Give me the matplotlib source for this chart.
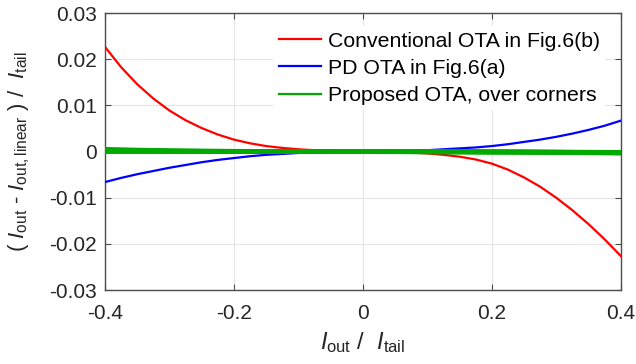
import numpy as np
import matplotlib
matplotlib.use("Agg")
import matplotlib.pyplot as plt

plt.rcParams["font.family"] = ["Liberation Sans", "DejaVu Sans"]
plt.rcParams["mathtext.fontset"] = "custom"
plt.rcParams["mathtext.rm"] = "Liberation Sans"
plt.rcParams["mathtext.it"] = "Liberation Sans:italic"

# normalised output current
x = [-0.4, -0.375, -0.35, -0.325, -0.3, -0.275, -0.25, -0.225, -0.2, -0.175, -0.15,
     -0.125, -0.1, -0.075, -0.05, -0.025, 0.0, 0.025, 0.05, 0.075, 0.1, 0.125,
     0.15, 0.175, 0.2, 0.225, 0.25, 0.275, 0.3, 0.325, 0.35, 0.375, 0.4]

# conventional OTA (Fig.6(b))
conv = [0.0227, 0.0183, 0.0146, 0.0115, 0.0089, 0.0068, 0.0051, 0.0037, 0.0026, 0.0018, 0.0012,
        0.0008, 0.0005, 0.0003, 0.0002, 0.0001, 0.0, 0.0, -0.0001, -0.0002, -0.0004, -0.0007,
        -0.0011, -0.0017, -0.0026, -0.0039, -0.0056, -0.0076, -0.0100, -0.0127, -0.0157, -0.0190, -0.0226]

# PD OTA (Fig.6(a))
pd_ota = [-0.0066, -0.0057, -0.0049, -0.0042, -0.0035, -0.0029, -0.0023, -0.0018, -0.0014, -0.0010, -0.0007,
          -0.0005, -0.0003, -0.0002, -0.0001, 0.0, 0.0, 0.0, 0.0001, 0.0002, 0.0003, 0.0005,
          0.0007, 0.0009, 0.0012, 0.0016, 0.0021, 0.0026, 0.0032, 0.0039, 0.0047, 0.0056, 0.0067]

# proposed OTA, several process corners (coarser sampling, nearly flat)
xc = [-0.4, -0.35, -0.3, -0.25, -0.2, -0.15, -0.1, -0.05, 0.0,
      0.05, 0.1, 0.15, 0.2, 0.25, 0.3, 0.35, 0.4]
corners = [
    [0.0005, 0.00033, 0.00021, 0.00012, 0.00007, 0.00004, 0.00002, 0.00001, 0.0,
     -0.00001, -0.00002, -0.00003, -0.00005, -0.00007, -0.0001, -0.00013, -0.00016],
    [0.0003, 0.0002, 0.00013, 0.00008, 0.00005, 0.00003, 0.00001, 0.0, 0.0,
     -0.00001, -0.00003, -0.00005, -0.00008, -0.00011, -0.00015, -0.0002, -0.00025],
    [0.00015, 0.0001, 0.00007, 0.00004, 0.00002, 0.00001, 0.0, 0.0, 0.0,
     -0.00002, -0.00004, -0.00007, -0.0001, -0.00014, -0.00019, -0.00025, -0.00032],
    [0.0, 0.0, 0.0, 0.0, 0.0, 0.0, 0.0, 0.0, 0.0,
     -0.00001, -0.00002, -0.00004, -0.00006, -0.00009, -0.00013, -0.00018, -0.00024],
]

fig = plt.figure(figsize=(6.36, 3.64), dpi=100)
ax = fig.add_axes([0.165, 0.203, 0.811, 0.761])

ax.plot(x, conv, color="#FF0000", lw=1.6, label="Conventional OTA in Fig.6(b)", zorder=3)
ax.plot(x, pd_ota, color="#0000FF", lw=1.6, label="PD OTA in Fig.6(a)", zorder=3)
for i, c in enumerate(corners):
    ax.plot(xc, c, color="#00AA00", lw=3.4,
            label="Proposed OTA, over corners" if i == 0 else None, zorder=4)

ax.set_xlim(-0.4, 0.4)
ax.set_ylim(-0.03, 0.03)
ax.set_xticks([-0.4, -0.2, 0, 0.2, 0.4])
ax.set_xticklabels(["-0.4", "-0.2", "0", "0.2", "0.4"])
ax.set_yticks([-0.03, -0.02, -0.01, 0, 0.01, 0.02, 0.03])
ax.set_yticklabels(["-0.03", "-0.02", "-0.01", "0", "0.01", "0.02", "0.03"])

ax.grid(True, color="#e6e6e6", lw=0.8)
ax.set_axisbelow(True)
for s in ax.spines.values():
    s.set_color("#4d4d4d")
    s.set_linewidth(1.0)
ax.tick_params(direction="in", top=True, right=True, length=4, width=0.8,
               color="#4d4d4d", labelsize=15, labelcolor="#262626")
ax.tick_params(axis="x", pad=10)
ax.tick_params(axis="y", pad=6)

ax.set_xlabel(r"$\mathit{I}_{\mathrm{out}}$ /  $\mathit{I}_{\mathrm{tail}}$",
              fontsize=17, color="#262626", labelpad=5)
ax.set_ylabel(r"( $\mathit{I}_{\mathrm{out}}$ - $\mathit{I}_{\mathrm{out,linear}}$ ) /  $\mathit{I}_{\mathrm{tail}}$",
              fontsize=16, color="#262626", labelpad=12)

leg = ax.legend(loc="upper right", fontsize=15.3, frameon=True, fancybox=False,
                edgecolor="none", facecolor="white", framealpha=1.0,
                handlelength=2.0, handletextpad=0.3, labelspacing=0.38,
                borderpad=0.25, bbox_to_anchor=(0.99, 0.99))
for h in leg.get_lines():
    h.set_linewidth(1.6)

fig.savefig("out.png", dpi=100)
